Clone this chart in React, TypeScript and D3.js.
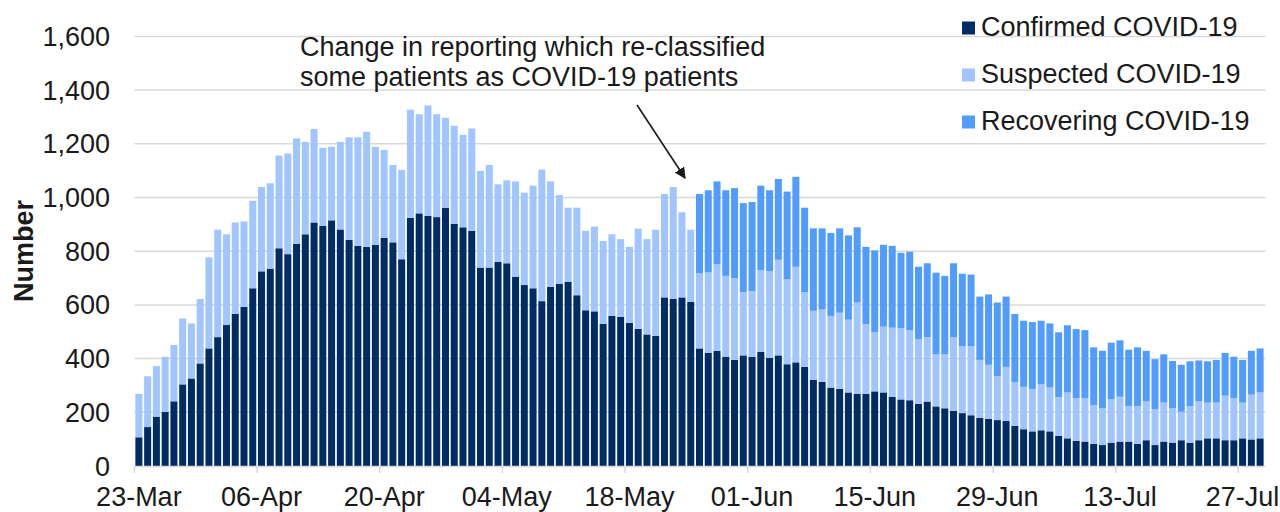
import React, { useEffect, useRef } from "react";
import * as d3 from "d3";

// ---- Data (daily, 23-Mar to 29-Jul) ----
const startDate = new Date(2020, 2, 23);

const confirmed = [
  107, 145, 184, 201, 241, 304, 326, 382, 438, 480, 525, 567, 593, 662, 725, 735,
  811, 789, 828, 863, 907, 894, 915, 881, 842, 820, 816, 824, 850, 833, 770, 924,
  941, 932, 927, 962, 902, 889, 876, 739, 739, 760, 755, 705, 674, 662, 614, 667,
  679, 686, 636, 580, 576, 529, 559, 555, 533, 511, 490, 485, 628, 623, 628, 611,
  438, 422, 429, 407, 395, 412, 407, 425, 403, 412, 379, 386, 369, 321, 313, 292,
  287, 274, 269, 269, 278, 274, 257, 248, 245, 231, 240, 222, 215, 206, 197, 189,
  180, 176, 171, 168, 150, 137, 129, 133, 129, 112, 103, 94, 91, 82, 78, 87,
  91, 91, 82, 96, 78, 91, 87, 96, 87, 96, 103, 103, 96, 96, 103, 99, 103,
];

const suspected = [
  162, 189, 188, 206, 210, 245, 205, 240, 339, 400, 338, 340, 318, 326, 314, 318,
  345, 375, 392, 344, 348, 291, 274, 326, 382, 404, 429, 365, 327, 288, 333, 403,
  369, 411, 383, 335, 365, 344, 381, 360, 382, 289, 309, 355, 344, 382, 490, 393,
  330, 276, 326, 296, 316, 309, 304, 290, 283, 373, 355, 395, 385, 416, 317, 269,
  279, 299, 322, 301, 305, 236, 245, 305, 322, 356, 316, 356, 279, 257, 270, 267,
  284, 271, 340, 260, 220, 245, 258, 266, 261, 241, 240, 194, 201, 274, 249, 257,
  215, 201, 164, 201, 163, 158, 158, 171, 163, 145, 171, 159, 162, 145, 137, 162,
  167, 132, 141, 145, 133, 145, 128, 106, 136, 145, 133, 133, 166, 157, 133, 167, 171,
];

const recovering = [
  0, 0, 0, 0, 0, 0, 0, 0, 0, 0, 0, 0, 0, 0, 0, 0,
  0, 0, 0, 0, 0, 0, 0, 0, 0, 0, 0, 0, 0, 0, 0, 0,
  0, 0, 0, 0, 0, 0, 0, 0, 0, 0, 0, 0, 0, 0, 0, 0,
  0, 0, 0, 0, 0, 0, 0, 0, 0, 0, 0, 0, 0, 0, 0, 0,
  296, 306, 309, 319, 335, 331, 331, 314, 302, 301, 327, 335, 314, 307, 302, 309,
  314, 314, 280, 287, 305, 305, 305, 280, 292, 270, 275, 304, 292, 275, 270, 267,
  236, 262, 274, 262, 253, 246, 249, 237, 239, 241, 250, 257, 253, 215, 214, 210,
  210, 210, 219, 188, 187, 180, 176, 175, 167, 152, 154, 159, 159, 154, 159, 163, 164,
];

const seriesNames = ["Confirmed COVID-19", "Suspected COVID-19", "Recovering COVID-19"];
const seriesColors = ["#002c66", "#a0c5ff", "#539cff"];

const yTicks = [0, 200, 400, 600, 800, 1000, 1200, 1400, 1600];
const xTickLabels = ["23-Mar", "06-Apr", "20-Apr", "04-May", "18-May", "01-Jun", "15-Jun", "29-Jun", "13-Jul", "27-Jul"];
const xTickEvery = 14;

const annotationLines = ["Change in reporting which re-classified", "some patients as COVID-19 patients"];

const FONT = "'Liberation Sans', Arial, sans-serif";
const FS = 27;

export default function App() {
  const ref = useRef<SVGSVGElement>(null);

  useEffect(() => {
    const svg = d3.select(ref.current);
    svg.selectAll("*").remove();

    const left = 134.5, right = 1264.5, top = 36.4, bottom = 466;

    const dates = confirmed.map((_, i) => d3.timeDay.offset(startDate, i));
    const table = dates.map((d, i) => ({
      date: d,
      c: confirmed[i],
      s: suspected[i],
      r: recovering[i],
    }));

    const x = d3
      .scaleBand<number>()
      .domain(d3.range(dates.length))
      .range([left, right])
      .paddingInner(0.2)
      .paddingOuter(0.1);
    const y = d3.scaleLinear().domain([0, 1600]).range([bottom, top]);

    const step = x.step();
    const bw = x.bandwidth();
    const boundary = (i: number) => (x(i) as number) - (step - bw) / 2;

    // gridlines
    svg
      .append("g")
      .selectAll("line")
      .data(yTicks.filter((t) => t > 0))
      .join("line")
      .attr("x1", left)
      .attr("x2", right + 1)
      .attr("y1", (d) => y(d))
      .attr("y2", (d) => y(d))
      .attr("stroke", "#d9d9d9")
      .attr("stroke-width", 1.5);

    // bars
    const stack = d3.stack<any>().keys(["c", "s", "r"]);
    const layers = stack(table);
    svg
      .append("g")
      .selectAll("g")
      .data(layers)
      .join("g")
      .attr("fill", (_, i) => seriesColors[i])
      .selectAll("rect")
      .data((d) => d.map((v, i) => ({ v, i })))
      .join("rect")
      .attr("x", (d) => x(d.i) as number)
      .attr("width", bw)
      .attr("y", (d) => y(d.v[1]))
      .attr("height", (d) => Math.max(0, y(d.v[0]) - y(d.v[1])));

    // x axis line and ticks
    const ax = svg.append("g");
    ax.append("line")
      .attr("x1", left)
      .attr("x2", right + 1)
      .attr("y1", bottom + 0.5)
      .attr("y2", bottom + 0.5)
      .attr("stroke", "#d9d9d9")
      .attr("stroke-width", 1.5);
    const tickIdx = xTickLabels.map((_, k) => k * xTickEvery);
    ax.selectAll("line.tick")
      .data(tickIdx)
      .join("line")
      .attr("class", "tick")
      .attr("x1", (i) => boundary(i))
      .attr("x2", (i) => boundary(i))
      .attr("y1", bottom)
      .attr("y2", bottom + 7)
      .attr("stroke", "#d9d9d9")
      .attr("stroke-width", 1.5);
    ax.selectAll("text")
      .data(tickIdx)
      .join("text")
      .attr("x", (i) => (x(i) as number) + bw / 2)
      .attr("y", 505.5)
      .attr("text-anchor", "middle")
      .attr("font-family", FONT)
      .attr("font-size", FS)
      .attr("fill", "#1a1a1a")
      .text((_, k) => xTickLabels[k]);

    // y axis labels
    svg
      .append("g")
      .selectAll("text")
      .data(yTicks)
      .join("text")
      .attr("x", 110)
      .attr("y", (d) => y(d) + 9.5)
      .attr("text-anchor", "end")
      .attr("font-family", FONT)
      .attr("font-size", FS)
      .attr("fill", "#1a1a1a")
      .text((d) => d3.format(",")(d));

    // y title
    svg
      .append("text")
      .attr("transform", "translate(33,251) rotate(-90)")
      .attr("text-anchor", "middle")
      .attr("font-family", FONT)
      .attr("font-weight", "bold")
      .attr("font-size", FS)
      .attr("fill", "#1a1a1a")
      .text("Number");

    // legend
    const lg = svg.append("g");
    seriesNames.forEach((name, i) => {
      const by = 36 + i * 47;
      lg.append("rect")
        .attr("x", 962)
        .attr("y", by - 14.5)
        .attr("width", 13)
        .attr("height", 13)
        .attr("fill", seriesColors[i]);
      lg.append("text")
        .attr("x", 981)
        .attr("y", by)
        .attr("font-family", FONT)
        .attr("font-size", FS)
        .attr("fill", "#1a1a1a")
        .text(name);
    });

    // annotation
    const an = svg.append("g");
    annotationLines.forEach((t, i) => {
      an.append("text")
        .attr("x", 300)
        .attr("y", 55.5 + i * 30.5)
        .attr("font-family", FONT)
        .attr("font-size", FS)
        .attr("fill", "#1a1a1a")
        .text(t);
    });
    const defs = svg.append("defs");
    defs
      .append("marker")
      .attr("id", "arrowhead")
      .attr("viewBox", "0 0 10 10")
      .attr("refX", 9)
      .attr("refY", 5)
      .attr("markerWidth", 7)
      .attr("markerHeight", 7)
      .attr("markerUnits", "strokeWidth")
      .attr("orient", "auto")
      .append("path")
      .attr("d", "M0,0 L10,5 L0,10 Z")
      .attr("fill", "#1a1a1a");
    an.append("line")
      .attr("x1", 637)
      .attr("y1", 105)
      .attr("x2", 685)
      .attr("y2", 178)
      .attr("stroke", "#1a1a1a")
      .attr("stroke-width", 1.6)
      .attr("marker-end", "url(#arrowhead)");
  }, []);

  return (
    <svg
      ref={ref}
      width={1280}
      height={512}
      style={{ position: "absolute", left: 0, top: 0, background: "#fff" }}
    />
  );
}
